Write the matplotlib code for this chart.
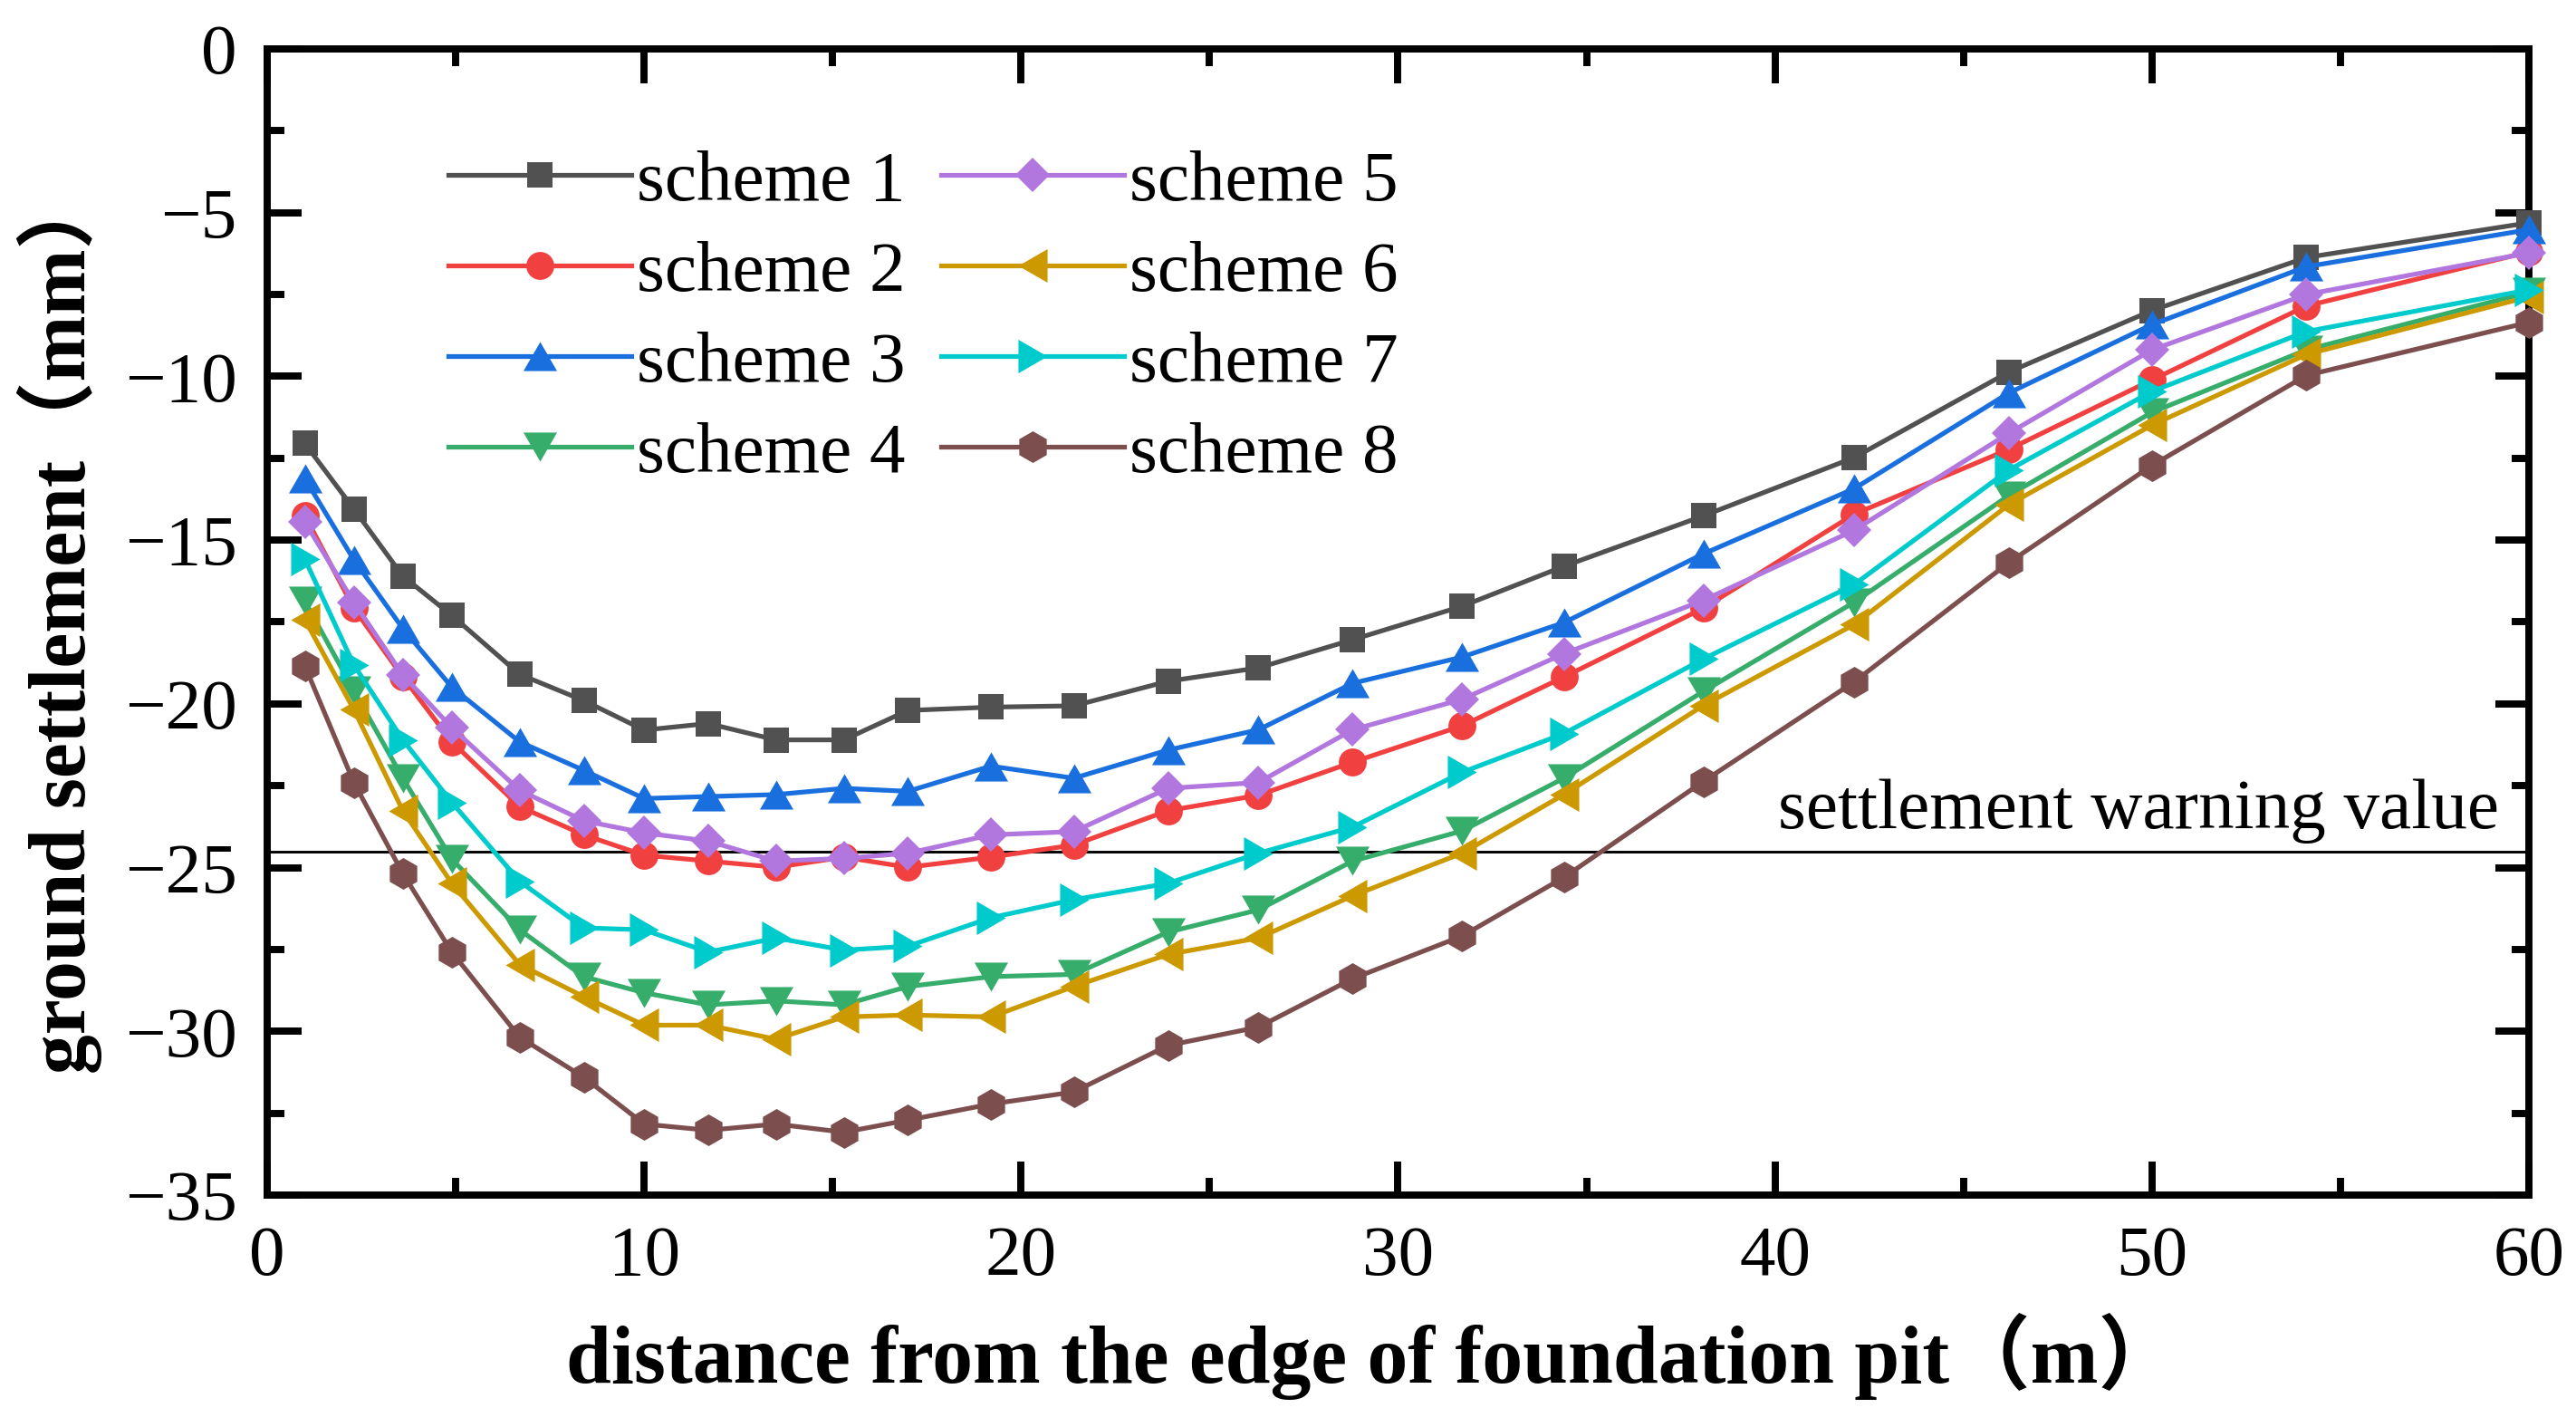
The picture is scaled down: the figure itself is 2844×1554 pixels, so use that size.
import matplotlib
matplotlib.use("Agg")
import matplotlib.pyplot as plt
from matplotlib.ticker import MultipleLocator

plt.rcParams['font.family'] = ['Liberation Serif', 'Noto Sans CJK SC', 'DejaVu Sans']

x = [1.0, 2.3, 3.6, 4.9, 6.7, 8.4, 10.0, 11.7, 13.5, 15.3, 17.0, 19.2, 21.4,
     23.9, 26.3, 28.8, 31.7, 34.4, 38.1, 42.1, 46.2, 50.0, 54.1, 60.0]

s1 = [-12.05, -14.05, -16.1, -17.3, -19.1, -19.9, -20.8, -20.6, -21.1, -21.1, -20.2, -20.1,
      -20.06, -19.31, -18.9, -18.04, -17.02, -15.8, -14.26, -12.48, -9.87, -7.99, -6.37, -5.31]
s2 = [-14.25, -17.08, -19.18, -21.16, -23.14, -24.0, -24.62, -24.8, -24.99, -24.68, -24.99, -24.68,
      -24.31, -23.26, -22.79, -21.78, -20.67, -19.18, -17.08, -14.21, -12.23, -10.11, -7.85, -6.2]
s3 = [-13.12, -15.6, -17.7, -19.49, -21.16, -22.03, -22.89, -22.83, -22.77, -22.58, -22.67, -21.9,
      -22.27, -21.41, -20.79, -19.37, -18.57, -17.52, -15.42, -13.43, -10.51, -8.42, -6.65, -5.52]
s4 = [-16.86, -19.6, -22.27, -24.74, -26.9, -28.33, -28.82, -29.19, -29.07, -29.19, -28.63, -28.33,
      -28.26, -26.97, -26.29, -24.8, -23.88, -22.27, -19.62, -16.9, -13.64, -11.1, -9.19, -7.43]
s5 = [-14.45, -16.9, -19.12, -20.73, -22.64, -23.57, -23.94, -24.19, -24.8, -24.72, -24.56, -24.0,
      -23.9, -22.58, -22.4, -20.79, -19.86, -18.47, -16.84, -14.7, -11.74, -9.19, -7.5, -6.23]
s6 = [-17.43, -20.17, -23.26, -25.48, -27.96, -28.94, -29.81, -29.81, -30.24, -29.56, -29.5, -29.56,
      -28.63, -27.65, -27.15, -25.86, -24.56, -22.77, -20.05, -17.58, -13.92, -11.49, -9.33, -7.57]
s7 = [-15.58, -18.81, -21.1, -23.01, -25.42, -26.84, -26.9, -27.58, -27.15, -27.52, -27.4, -26.53,
      -25.98, -25.48, -24.56, -23.76, -22.09, -20.91, -18.63, -16.36, -12.86, -10.46, -8.63, -7.36]
s8 = [-18.84, -22.4, -25.18, -27.58, -30.18, -31.4, -32.83, -33.02, -32.83, -33.08, -32.71, -32.22,
      -31.85, -30.43, -29.87, -28.39, -27.09, -25.3, -22.37, -19.33, -15.69, -12.72, -9.97, -8.35]

labels = ['scheme 1', 'scheme 2', 'scheme 3', 'scheme 4',
          'scheme 5', 'scheme 6', 'scheme 7', 'scheme 8']
warning_value = -24.5
warning_text = 'settlement warning value'
xlabel = 'distance from the edge of foundation pit（m）'
ylabel = 'ground settlement（mm）'

# equilateral triangle marker shapes
h = 0.866
tri_up = [(0, h), (-1, -h), (1, -h), (0, h)]
tri_down = [(0, -h), (-1, h), (1, h), (0, -h)]
tri_left = [(-h, 0), (h, 1), (h, -1), (-h, 0)]
tri_right = [(h, 0), (-h, 1), (-h, -1), (h, 0)]

series = [s1, s2, s3, s4, s5, s6, s7, s8]
colors = ['#515151', '#F14040', '#1A6FDF', '#37AD6B', '#B177DE', '#CC9900', '#00CBCC', '#7D4E4E']
markers = ['s', 'o', tri_up, tri_down, 'D', tri_left, tri_right, 'h']
msizes = [6.7, 7.4, 8.9, 8.9, 6.5, 8.9, 8.9, 8.4]

fig = plt.figure(figsize=(9.48, 5.18), dpi=300)
ax = fig.add_axes([0.1037, 0.1512, 0.878, 0.8141])

for ys, c, m, ms, lab in zip(series, colors, markers, msizes, labels):
    ax.plot(x, ys, color=c, marker=m, markersize=ms, linewidth=1.25,
            markeredgewidth=0, label=lab, clip_on=False, zorder=3)

ax.axhline(warning_value, color='black', linewidth=0.7, zorder=2)
ax.text(59.2, -23.8, warning_text, ha='right', va='baseline', fontsize=19)

ax.set_xlim(0, 60)
ax.set_ylim(-35, 0)
ax.xaxis.set_major_locator(MultipleLocator(10))
ax.xaxis.set_minor_locator(MultipleLocator(5))
ax.yaxis.set_major_locator(MultipleLocator(5))
ax.yaxis.set_minor_locator(MultipleLocator(2.5))
ax.tick_params(which='both', direction='in', top=True, right=True, width=1.9)
ax.tick_params(which='major', length=9, labelsize=19, pad=8)
ax.tick_params(which='minor', length=4.5)
for sp in ax.spines.values():
    sp.set_linewidth(1.9)

ax.set_xlabel(xlabel, fontsize=21.5, fontweight='bold', labelpad=6)
ax.xaxis.label.set_x(0.489)
ax.set_ylabel(ylabel, fontsize=21, fontweight='bold', labelpad=6)

leg = ax.legend(loc='upper left', bbox_to_anchor=(0.08, 0.912), ncol=2, frameon=False,
                fontsize=19, handlelength=2.55, handletextpad=0.08, columnspacing=0.5,
                labelspacing=0.35, borderpad=0, borderaxespad=0)

fig.savefig('out.png', dpi=300)
